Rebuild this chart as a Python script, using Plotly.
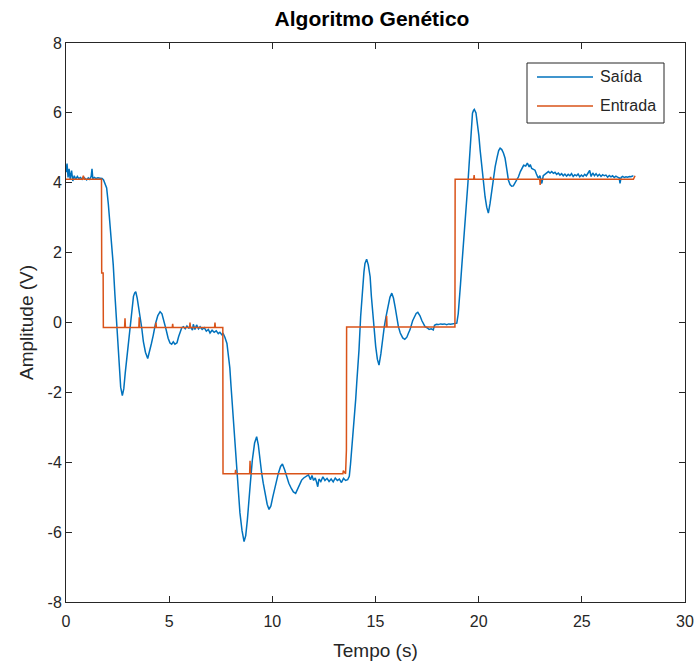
import plotly.graph_objects as go

# Output signal (Saída): time [s] and amplitude [V]
t_saida = [
    0.00, 0.05, 0.10, 0.15, 0.20, 0.27, 0.33, 0.40, 0.47, 0.55, 0.62, 0.70, 0.78, 0.85, 0.93,
    1.00, 1.08, 1.15, 1.22, 1.26, 1.30, 1.38, 1.45, 1.55, 1.65, 1.75, 1.82, 1.90, 1.97, 2.05,
    2.13, 2.21, 2.29, 2.37, 2.46, 2.52, 2.58, 2.65, 2.73, 2.80, 2.87, 2.95, 3.02, 3.10, 3.18,
    3.27, 3.33, 3.38, 3.45, 3.52, 3.59, 3.67, 3.75, 3.85, 3.96, 4.05, 4.14, 4.23, 4.33, 4.45,
    4.56, 4.65, 4.75, 4.85, 4.95, 5.04, 5.12, 5.20, 5.28, 5.38, 5.46, 5.53, 5.61, 5.69, 5.78,
    5.86, 5.95, 6.05, 6.13, 6.17, 6.25, 6.33, 6.42, 6.50, 6.60, 6.70, 6.80, 6.90, 6.98, 7.08,
    7.18, 7.28, 7.38, 7.46, 7.55, 7.62, 7.70, 7.80, 7.87, 7.94, 8.00, 8.11, 8.22, 8.32, 8.43,
    8.53, 8.63, 8.71, 8.79, 8.92, 9.03, 9.14, 9.24, 9.32, 9.40, 9.48, 9.56, 9.66, 9.75, 9.84,
    9.93, 10.02, 10.10, 10.20, 10.29, 10.40, 10.49, 10.60, 10.70, 10.80, 10.92, 11.02, 11.13, 11.22, 11.32,
    11.42, 11.52, 11.62, 11.75, 11.85, 11.92, 12.00, 12.08, 12.15, 12.20, 12.26, 12.35, 12.45, 12.55, 12.65,
    12.75, 12.85, 12.95, 13.05, 13.15, 13.25, 13.35, 13.45, 13.55, 13.65, 13.73, 13.79, 13.85, 13.92, 13.98,
    14.04, 14.09, 14.15, 14.20, 14.28, 14.33, 14.38, 14.44, 14.49, 14.57, 14.65, 14.74, 14.80, 14.87, 14.94,
    15.01, 15.09, 15.17, 15.26, 15.35, 15.43, 15.51, 15.60, 15.70, 15.79, 15.87, 15.95, 16.03, 16.11, 16.20,
    16.32, 16.42, 16.52, 16.60, 16.67, 16.80, 16.90, 16.97, 17.05, 17.15, 17.25, 17.32, 17.40, 17.50, 17.60,
    17.70, 17.80, 17.86, 17.95, 18.05, 18.15, 18.25, 18.35, 18.45, 18.55, 18.64, 18.75, 18.85, 18.94, 19.01,
    19.07, 19.12, 19.18, 19.25, 19.31, 19.36, 19.42, 19.48, 19.53, 19.58, 19.62, 19.66, 19.70, 19.75, 19.79,
    19.87, 19.95, 20.01, 20.07, 20.13, 20.20, 20.25, 20.31, 20.39, 20.47, 20.55, 20.63, 20.72, 20.80, 20.90,
    20.97, 21.04, 21.12, 21.20, 21.28, 21.36, 21.44, 21.52, 21.60, 21.68, 21.78, 21.86, 21.93, 22.02, 22.10,
    22.18, 22.28, 22.36, 22.45, 22.50, 22.57, 22.65, 22.73, 22.80, 22.89, 22.97, 23.06, 23.13, 23.22, 23.30,
    23.38, 23.46, 23.54, 23.62, 23.70, 23.78, 23.86, 23.94, 24.02, 24.10, 24.18, 24.26, 24.34, 24.42, 24.50,
    24.58, 24.66, 24.74, 24.82, 24.90, 24.98, 25.06, 25.14, 25.22, 25.30, 25.38, 25.45, 25.53, 25.61, 25.69,
    25.77, 25.85, 25.93, 26.01, 26.09, 26.17, 26.25, 26.33, 26.41, 26.49, 26.57, 26.65, 26.73, 26.81, 26.85,
    26.90, 26.98, 27.06, 27.14, 27.22, 27.30, 27.38, 27.46, 27.50,
]
v_saida = [
    4.30, 4.55, 4.15, 4.40, 4.10, 4.35, 4.05, 4.20, 4.10, 4.18, 4.12, 4.15, 4.10, 4.16, 4.12,
    4.08, 4.14, 4.10, 4.18, 4.40, 4.12, 4.15, 4.12, 4.14, 4.13, 4.12, 4.08, 3.95, 3.85, 3.40,
    2.88, 2.30, 1.65, 0.80, -0.16, -0.85, -1.41, -1.85, -2.09, -1.90, -1.45, -1.00, -0.55, -0.05, 0.41,
    0.75, 0.85, 0.88, 0.70, 0.45, 0.21, -0.15, -0.55, -0.85, -1.03, -0.85, -0.60, -0.36, -0.05, 0.20,
    0.31, 0.25, 0.05, -0.20, -0.45, -0.59, -0.62, -0.55, -0.62, -0.58, -0.40, -0.26, -0.15, -0.12, -0.18,
    -0.10, -0.16, -0.14, -0.22, -0.05, -0.20, -0.07, -0.18, -0.12, -0.20, -0.15, -0.25, -0.20, -0.30, -0.22,
    -0.28, -0.24, -0.32, -0.28, -0.35, -0.32, -0.42, -0.60, -0.90, -1.30, -1.84, -2.79, -3.74, -4.70, -5.45,
    -5.95, -6.27, -6.10, -5.65, -4.70, -3.94, -3.45, -3.27, -3.50, -3.94, -4.30, -4.60, -4.95, -5.20, -5.35,
    -5.25, -5.00, -4.79, -4.55, -4.32, -4.12, -4.05, -4.22, -4.41, -4.60, -4.75, -4.85, -4.89, -4.78, -4.62,
    -4.51, -4.45, -4.40, -4.36, -4.50, -4.38, -4.52, -4.45, -4.58, -4.70, -4.48, -4.55, -4.42, -4.52, -4.46,
    -4.55, -4.48, -4.56, -4.45, -4.52, -4.48, -4.58, -4.46, -4.52, -4.50, -4.40, -4.05, -3.65, -3.20, -2.70,
    -2.20, -1.74, -1.25, -0.79, 0.17, 0.65, 1.12, 1.45, 1.69, 1.81, 1.65, 1.31, 0.75, 0.17, -0.28,
    -0.69, -1.05, -1.22, -0.90, -0.41, -0.10, 0.17, 0.48, 0.72, 0.84, 0.70, 0.45, 0.15, -0.12, -0.30,
    -0.44, -0.48, -0.42, -0.30, -0.21, 0.05, 0.20, 0.26, 0.29, 0.20, 0.05, -0.05, -0.12, -0.15, -0.20,
    -0.18, -0.21, -0.08, -0.05, -0.06, -0.04, -0.05, -0.04, -0.06, -0.04, -0.05, -0.04, -0.03, -0.02, 0.25,
    0.64, 1.10, 1.60, 2.10, 2.55, 3.00, 3.51, 4.00, 4.46, 4.95, 5.41, 5.75, 5.99, 6.07, 6.10,
    6.00, 5.70, 5.35, 4.94, 4.55, 4.17, 3.85, 3.60, 3.30, 3.13, 3.40, 3.79, 4.15, 4.46, 4.75,
    4.92, 4.99, 4.95, 4.85, 4.70, 4.40, 4.08, 3.95, 3.90, 3.91, 4.00, 4.10, 4.17, 4.32, 4.40,
    4.50, 4.48, 4.56, 4.45, 4.52, 4.41, 4.38, 4.36, 4.25, 4.13, 4.20, 3.98, 4.20, 4.25, 4.27,
    4.32, 4.28, 4.32, 4.27, 4.30, 4.24, 4.28, 4.22, 4.26, 4.20, 4.25, 4.19, 4.24, 4.20, 4.26,
    4.18, 4.23, 4.20, 4.25, 4.17, 4.22, 4.18, 4.24, 4.20, 4.26, 4.35, 4.18, 4.28, 4.20, 4.26,
    4.19, 4.24, 4.18, 4.23, 4.20, 4.22, 4.16, 4.21, 4.17, 4.20, 4.15, 4.19, 4.16, 4.14, 3.98,
    4.15, 4.18, 4.15, 4.17, 4.16, 4.18, 4.17, 4.19, 4.19,
]

# Reference input (Entrada): piecewise-constant setpoint with small glitches
t_entrada = [
    0.00, 0.80, 0.84, 0.88, 1.72, 1.73, 1.80, 1.81, 2.84, 2.86, 2.88, 3.53, 3.55, 3.57,
    4.34, 4.36, 4.38, 5.15, 5.17, 5.19, 5.99, 6.01, 6.03, 7.20, 7.22, 7.24, 7.60, 7.61,
    8.20, 8.22, 8.24, 8.90, 8.92, 8.94, 13.42, 13.44, 13.55, 13.56, 13.59, 13.60,
    15.52, 15.54, 15.56, 18.85, 18.86, 19.76, 19.78, 19.80, 20.56, 20.58, 20.60,
    22.96, 22.98, 23.00, 27.50, 27.58,
]
v_entrada = [
    4.10, 4.10, 4.20, 4.10, 4.10, 1.42, 1.42, -0.14, -0.14, 0.12, -0.14, -0.14, 0.15, -0.14,
    -0.14, 0.00, -0.14, -0.14, -0.04, -0.14, -0.14, 0.00, -0.14, -0.14, 0.00, -0.14, -0.14, -4.33,
    -4.33, -4.22, -4.33, -4.33, -3.96, -4.33, -4.33, -4.24, -4.33, -3.65, -3.65, -0.13,
    -0.13, 0.19, -0.13, -0.13, 4.10, 4.10, 4.22, 4.10, 4.10, 4.17, 4.10,
    4.10, 3.94, 4.10, 4.10, 4.20,
]

x_ticks = [0, 5, 10, 15, 20, 25, 30]
y_ticks = [-8, -6, -4, -2, 0, 2, 4, 6, 8]
legend_names = ["Saída", "Entrada"]

BLUE = "#0072BD"
ORANGE = "#D95319"
AXIS = "#262626"
FONT = "Liberation Sans, Arial, sans-serif"

W, H = 694, 666
ML, MR, MT, MB = 66, 9, 43, 64
PW, PH = W - ML - MR, H - MT - MB

fig = go.Figure()
fig.add_trace(go.Scatter(x=t_saida, y=v_saida, mode="lines", name=legend_names[0],
                         line=dict(color=BLUE, width=1.5)))
fig.add_trace(go.Scatter(x=t_entrada, y=v_entrada, mode="lines", name=legend_names[1],
                         line=dict(color=ORANGE, width=1.5)))

axis_common = dict(
    showgrid=False, zeroline=False, showline=True, linecolor=AXIS, linewidth=1,
    mirror="ticks", ticks="inside", ticklen=6, tickcolor=AXIS, tickwidth=1,
    tickfont=dict(family=FONT, size=16, color=AXIS), ticklabeloverflow="allow",
    automargin=False,
)
fig.update_xaxes(range=[0, 30], tickvals=x_ticks, ticktext=[str(v) for v in x_ticks],
                 ticklabelstandoff=5,
                 title=dict(text="Tempo (s)", standoff=14,
                            font=dict(family=FONT, size=19, color=AXIS)), **axis_common)
fig.update_yaxes(range=[-8, 8], tickvals=y_ticks, ticktext=[str(v) for v in y_ticks],
                 title=dict(text="Amplitude (V)", standoff=8,
                            font=dict(family=FONT, size=19, color=AXIS)), **axis_common)


# Legend box drawn in plot-area fractions from pixel positions
def px(xp):
    return (xp - ML) / PW


def py(yp):
    return 1 - (yp - MT) / PH


shapes = [dict(type="rect", xref="paper", yref="paper", x0=px(527), x1=px(664), y0=py(123), y1=py(63),
               line=dict(color=AXIS, width=1), fillcolor="white", layer="above")]
annotations = []
for i, (name, col) in enumerate(zip(legend_names, [BLUE, ORANGE])):
    yy = 77 + i * 29
    shapes.append(dict(type="line", xref="paper", yref="paper", x0=px(537), x1=px(593),
                       y0=py(yy), y1=py(yy), line=dict(color=col, width=1.5), layer="above"))
    annotations.append(dict(text=name, xref="paper", yref="paper", x=px(598), y=py(yy),
                            xanchor="left", yanchor="middle", showarrow=False,
                            font=dict(family=FONT, size=16, color=AXIS)))

fig.update_layout(
    width=W, height=H, margin=dict(l=ML, r=MR, t=MT, b=MB, autoexpand=False),
    paper_bgcolor="white", plot_bgcolor="white", showlegend=False,
    title=dict(text="<b>Algoritmo Genético</b>", x=372 / W, xanchor="center",
               y=1 - 19 / H, yanchor="middle", font=dict(family=FONT, size=21, color="black")),
    shapes=shapes, annotations=annotations,
)

fig.write_html("out.html")
